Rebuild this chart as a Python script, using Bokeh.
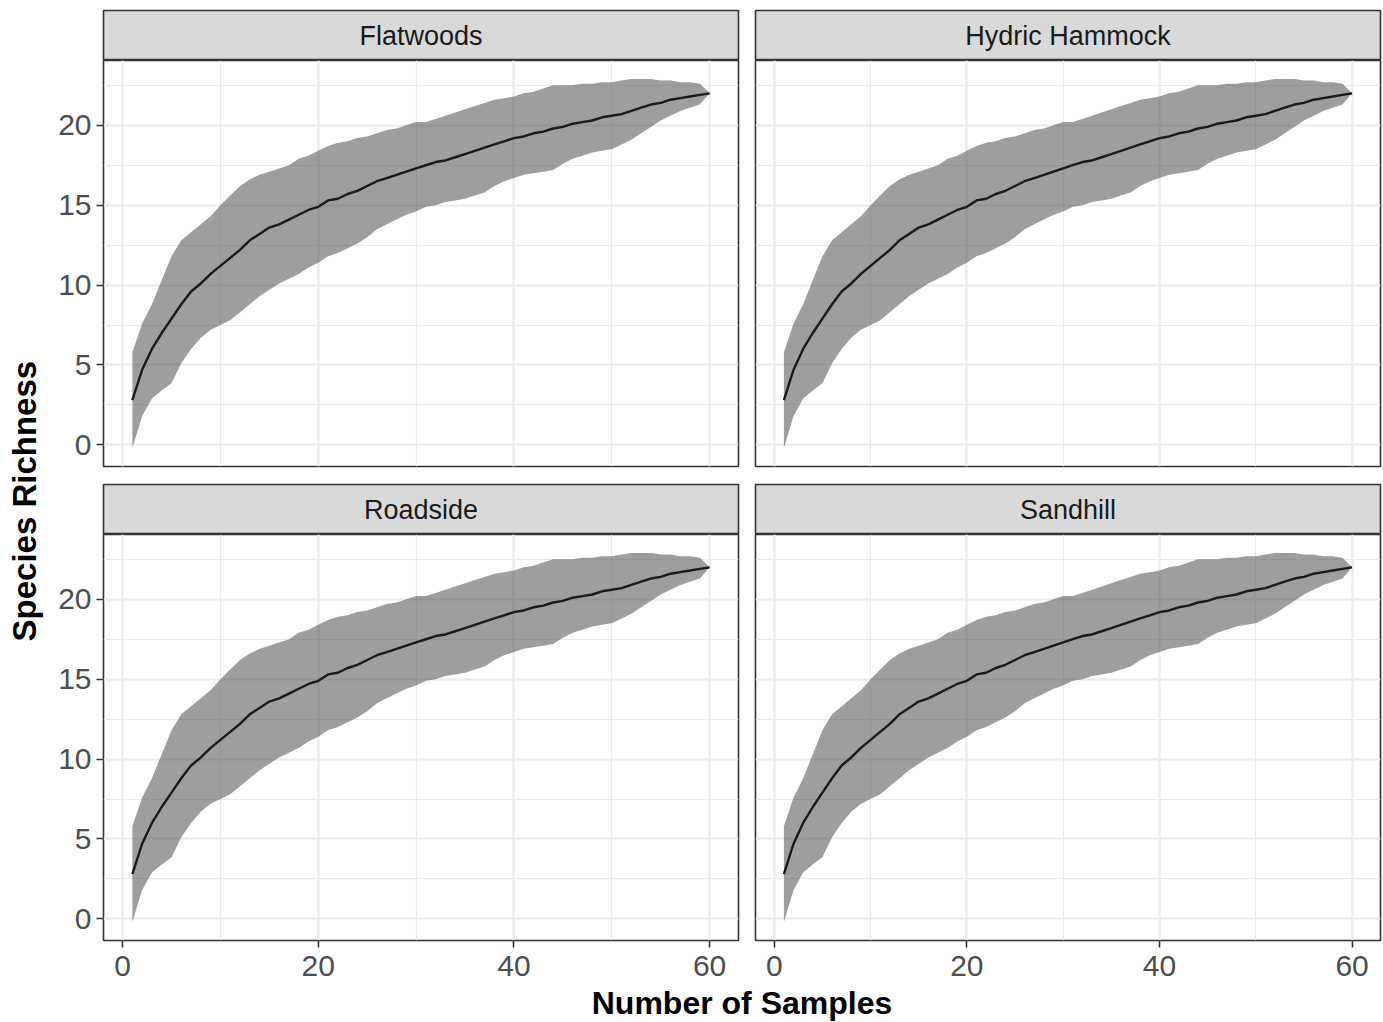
import math
from bokeh.plotting import figure
from bokeh.layouts import row, column
from bokeh.models import Range1d, FixedTicker, ColumnDataSource
from bokeh.core.properties import value
from bokeh.embed import file_html
from bokeh.resources import INLINE

# ---------------- data ----------------
habitats = ["Flatwoods", "Hydric Hammock", "Roadside", "Sandhill"]

samples = list(range(1, 61))

richness_mean = [
    2.8, 4.7, 6.0, 7.0, 7.9, 8.8, 9.6, 10.1, 10.7, 11.2,
    11.7, 12.2, 12.8, 13.2, 13.6, 13.8, 14.1, 14.4, 14.7, 14.9,
    15.3, 15.4, 15.7, 15.9, 16.2, 16.5, 16.7, 16.9, 17.1, 17.3,
    17.5, 17.7, 17.8, 18.0, 18.2, 18.4, 18.6, 18.8, 19.0, 19.2,
    19.3, 19.5, 19.6, 19.8, 19.9, 20.1, 20.2, 20.3, 20.5, 20.6,
    20.7, 20.9, 21.1, 21.3, 21.4, 21.6, 21.7, 21.8, 21.9, 22.0,
]

richness_upper = [
    5.8, 7.6, 8.8, 10.3, 11.8, 12.8, 13.3, 13.8, 14.3, 15.0,
    15.6, 16.2, 16.6, 16.9, 17.1, 17.3, 17.5, 17.9, 18.1, 18.4,
    18.7, 18.9, 19.0, 19.2, 19.3, 19.5, 19.7, 19.8, 20.0, 20.2,
    20.2, 20.4, 20.6, 20.8, 21.0, 21.2, 21.4, 21.6, 21.7, 21.8,
    22.0, 22.1, 22.3, 22.5, 22.5, 22.5, 22.6, 22.6, 22.7, 22.7,
    22.8, 22.9, 22.9, 22.9, 22.8, 22.8, 22.7, 22.7, 22.6, 22.0,
]

richness_lower = [
    -0.2, 1.8, 2.9, 3.4, 3.85, 5.1, 6.0, 6.7, 7.2, 7.5,
    7.8, 8.3, 8.8, 9.3, 9.7, 10.1, 10.4, 10.7, 11.1, 11.4,
    11.8, 12.0, 12.3, 12.6, 13.0, 13.5, 13.8, 14.1, 14.4, 14.6,
    14.9, 15.0, 15.2, 15.3, 15.4, 15.6, 15.8, 16.2, 16.5, 16.7,
    16.9, 17.0, 17.1, 17.2, 17.6, 17.9, 18.1, 18.3, 18.4, 18.5,
    18.8, 19.1, 19.5, 19.9, 20.3, 20.6, 20.9, 21.1, 21.3, 22.0,
]

x_ticks = [0, 20, 40, 60]
x_minor = [10, 30, 50]
y_ticks = [0, 5, 10, 15, 20]
y_minor = [2.5, 7.5, 12.5, 17.5, 22.5]

x_title = "Number of Samples"
y_title = "Species Richness"

# ---------------- styling ----------------
FONT = "Liberation Sans"
BORDER = "#333333"
GRID = "#EBEBEB"
STRIP_FILL = "#D9D9D9"
TICK_TEXT = "#4D4D4D"


def expanded(lo, hi, frac=0.05):
    span = hi - lo
    return lo - span * frac, hi + span * frac


x_lo, x_hi = expanded(min(samples), max(samples))
y_lo, y_hi = expanded(min(richness_lower), max(richness_upper))

src = ColumnDataSource(dict(x=samples, m=richness_mean,
                            lo=richness_lower, hi=richness_upper))


def make_panel(width, height, left_border, bottom_border, show_x, show_y):
    p = figure(width=width, height=height,
               x_range=Range1d(x_lo, x_hi), y_range=Range1d(y_lo, y_hi),
               output_backend="svg", toolbar_location=None,
               x_axis_location="below" if show_x else None,
               y_axis_location="left" if show_y else None,
               min_border_left=left_border, min_border_right=2,
               min_border_top=0, min_border_bottom=bottom_border)
    p.outline_line_color = BORDER
    p.outline_line_width = 1.6
    p.background_fill_color = "white"
    p.border_fill_color = "white"
    for g, t, mn in ((p.xgrid, x_ticks, x_minor), (p.ygrid, y_ticks, y_minor)):
        g.ticker = FixedTicker(ticks=t, minor_ticks=mn)
        g.grid_line_color = GRID
        g.grid_line_width = 2.2
        g.minor_grid_line_color = GRID
        g.minor_grid_line_width = 1.1
    for ax, t, so in ((p.xaxis, x_ticks, 8), (p.yaxis, y_ticks, 5)):
        ax.ticker = FixedTicker(ticks=t)
        ax.axis_line_color = None
        ax.major_tick_line_color = BORDER
        ax.major_tick_line_width = 1.6
        ax.major_tick_out = 7
        ax.major_tick_in = 0
        ax.minor_tick_line_color = None
        ax.major_label_text_font = FONT
        ax.major_label_text_font_size = "30px"
        ax.major_label_text_color = TICK_TEXT
        ax.major_label_standoff = so
    p.varea(x="x", y1="lo", y2="hi", source=src,
            fill_color="#3c3d42", fill_alpha=0.5)
    p.line(x="x", y="m", source=src, line_color="#1a1a1a", line_width=2.4)
    return p


def make_strip(name, width, left_border, top_border):
    s = figure(width=width, height=50 + top_border,
               x_range=Range1d(0, 1), y_range=Range1d(0, 1),
               output_backend="svg", toolbar_location=None,
               x_axis_location=None, y_axis_location=None,
               min_border_left=left_border, min_border_right=2,
               min_border_top=top_border, min_border_bottom=0)
    s.grid.visible = False
    s.background_fill_color = STRIP_FILL
    s.border_fill_color = "white"
    s.outline_line_color = BORDER
    s.outline_line_width = 1.6
    s.text(x=[0.5], y=[0.5], text=[name], text_align="center",
           text_baseline="middle", text_font=value(FONT),
           text_font_size="27px", text_color="#1A1A1A")
    return s


LW, LB = 692, 55   # left column width / left border
RW, RB = 642, 15   # right column width / left border
TOP_STRIP_B, BOT_STRIP_B = 10, 2
TOP_H, TOP_BB = 422, 16
BOT_H, BOT_BB = 456, 50
XL_H = 32
YL_W = 48

tl = column(make_strip(habitats[0], LW, LB, TOP_STRIP_B),
            make_panel(LW, TOP_H, LB, TOP_BB, False, True))
tr = column(make_strip(habitats[1], RW, RB, TOP_STRIP_B),
            make_panel(RW, TOP_H, RB, TOP_BB, False, False))
bl = column(make_strip(habitats[2], LW, LB, BOT_STRIP_B),
            make_panel(LW, BOT_H, LB, BOT_BB, True, True))
br = column(make_strip(habitats[3], RW, RB, BOT_STRIP_B),
            make_panel(RW, BOT_H, RB, BOT_BB, True, False))

xlab = figure(width=LW + RW, height=XL_H,
              x_range=Range1d(0, 1), y_range=Range1d(0, 1),
              output_backend="svg", toolbar_location=None,
              x_axis_location=None, y_axis_location=None,
              min_border_left=LB, min_border_right=2,
              min_border_top=0, min_border_bottom=0)
xlab.grid.visible = False
xlab.outline_line_color = None
xlab.text(x=[0.5], y=[0.594], text=[x_title], text_align="center",
          text_baseline="middle", text_font=value(FONT),
          text_font_size="32px", text_font_style="bold", text_color="black")

top_h = 50 + TOP_STRIP_B
total_h = top_h + TOP_H + 50 + BOT_STRIP_B + BOT_H + XL_H
frame_h = (TOP_H - TOP_BB) + 50 + BOT_STRIP_B + (BOT_H - BOT_BB)
ylab = figure(width=YL_W, height=total_h,
              x_range=Range1d(0, 1), y_range=Range1d(0, 1),
              output_backend="svg", toolbar_location=None,
              x_axis_location=None, y_axis_location=None,
              min_border_left=0, min_border_right=0,
              min_border_top=top_h, min_border_bottom=total_h - top_h - frame_h)
ylab.grid.visible = False
ylab.outline_line_color = None
ylab.text(x=[0.5], y=[0.49], text=[y_title], angle=math.pi / 2,
          text_align="center", text_baseline="middle", text_font=value(FONT),
          text_font_size="33px", text_font_style="bold", text_color="black")

layout = row(ylab, column(row(tl, tr), row(bl, br), xlab))

open("out.html", "w").write(file_html(layout, INLINE))
